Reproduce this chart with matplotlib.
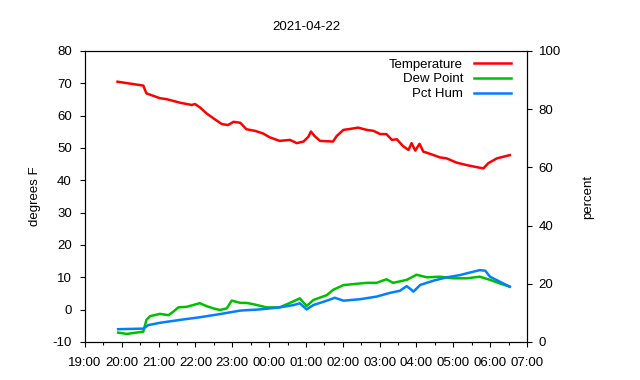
import matplotlib
matplotlib.use("Agg")
import matplotlib.pyplot as plt
import matplotlib.dates as mdates
import pandas as pd

plt.rcParams['font.family'] = ['Liberation Sans', 'DejaVu Sans']
plt.rcParams['font.size'] = 9.5
plt.rcParams['axes.unicode_minus'] = False

# readings (times are local, after midnight rolls to the next day)
t_temp = ["19:53", "20:35", "20:40", "21:02", "21:13", "21:35", "21:54", "21:59",
          "22:07", "22:18", "22:29", "22:43", "22:53", "23:02", "23:13", "23:23",
          "23:37", "23:50", "00:01", "00:17", "00:34", "00:45", "00:56", "01:04",
          "01:08", "01:14", "01:23", "01:44", "01:50", "02:01", "02:12", "02:25",
          "02:39", "02:50", "03:01", "03:11", "03:20", "03:28", "03:38", "03:47",
          "03:52", "03:58", "04:05", "04:11", "04:28", "04:38", "04:49", "05:05",
          "05:22", "05:43", "05:49", "05:57", "06:11", "06:32"]
temp = [70.5, 69.3, 66.9, 65.4, 65.1, 64.0, 63.3, 63.6,
        62.6, 60.7, 59.2, 57.4, 57.1, 58.1, 57.8, 55.8,
        55.3, 54.5, 53.3, 52.2, 52.5, 51.5, 52.0, 53.5,
        55.1, 53.7, 52.2, 52.0, 53.7, 55.6, 55.9, 56.3,
        55.6, 55.3, 54.3, 54.3, 52.5, 52.7, 50.6, 49.4,
        51.5, 49.2, 51.3, 48.9, 47.8, 47.1, 46.8, 45.5,
        44.7, 43.9, 43.7, 45.3, 46.8, 47.8]

t_dew = ["19:54", "20:08", "20:35", "20:40", "20:46", "21:02", "21:16", "21:24",
         "21:32", "21:46", "22:07", "22:18", "22:29", "22:40", "22:51", "22:59",
         "23:13", "23:23", "23:34", "23:56", "00:17", "00:34", "00:50", "01:01",
         "01:12", "01:34", "01:44", "02:01", "02:17", "02:39", "02:55", "03:11",
         "03:22", "03:44", "04:00", "04:17", "04:38", "05:00", "05:22", "05:43",
         "06:00", "06:16", "06:32"]
dew = [-7.1, -7.5, -6.8, -3.2, -2.0, -1.3, -1.7, -0.6,
       0.7, 0.9, 2.0, 1.1, 0.4, -0.1, 0.4, 2.8,
       2.1, 2.1, 1.7, 0.7, 0.7, 2.1, 3.5, 1.1,
       3.0, 4.5, 6.1, 7.6, 7.9, 8.3, 8.3, 9.4,
       8.3, 9.2, 10.8, 10.0, 10.2, 9.7, 9.7, 10.2,
       9.2, 8.1, 7.1]

t_hum = ["19:54", "20:35", "20:43", "21:02", "21:35", "22:07", "22:40", "23:13",
         "23:45", "00:17", "00:40", "00:50", "01:01", "01:12", "01:34", "01:47",
         "02:01", "02:28", "02:55", "03:17", "03:33", "03:44", "03:52", "03:55",
         "04:06", "04:28", "04:49", "05:11", "05:22", "05:43", "05:52", "06:00",
         "06:16", "06:32"]
hum = [4.4, 4.6, 5.8, 6.6, 7.6, 8.5, 9.6, 10.8,
       11.2, 11.9, 12.7, 13.3, 11.2, 12.7, 14.2, 15.2,
       14.2, 14.7, 15.6, 16.9, 17.6, 19.2, 17.9, 17.3,
       19.6, 21.1, 22.2, 23.0, 23.6, 24.7, 24.5, 22.4,
       20.7, 19.0]


def to_dt(times):
    out = []
    for s in times:
        day = "2021-04-22" if int(s[:2]) >= 12 else "2021-04-23"
        out.append(pd.Timestamp(day + " " + s))
    return out


fig = plt.figure(figsize=(6.4, 3.8), dpi=100)
ax = fig.add_axes([0.1328, 0.1, 0.6906, 0.7658])
ax2 = ax.twinx()

l1, = ax.plot(to_dt(t_temp), temp, color="#ff0000", lw=1.8, label="Temperature")
l2, = ax.plot(to_dt(t_dew), dew, color="#00c000", lw=1.8, label="Dew Point")
l3, = ax2.plot(to_dt(t_hum), hum, color="#0080ff", lw=1.8, label="Pct Hum")

ax.set_xlim(pd.Timestamp("2021-04-22 19:00"), pd.Timestamp("2021-04-23 07:00"))
ax.set_ylim(-10, 80)
ax.set_yticks(range(-10, 81, 10))
ax2.set_ylim(0, 100)
ax2.set_yticks(range(0, 101, 20))

ax.xaxis.set_major_locator(mdates.HourLocator())
ax.xaxis.set_minor_locator(mdates.MinuteLocator(byminute=[30]))
ax.xaxis.set_major_formatter(mdates.DateFormatter("%H:%M"))

ax.tick_params(axis="y", which="major", direction="out", length=3.5, width=0.8, pad=6)
ax.tick_params(axis="x", which="major", direction="out", length=3.5, width=0.8, pad=7)
ax.tick_params(axis="x", which="minor", direction="out", length=2.5, width=0.8)
ax2.tick_params(axis="y", direction="out", length=3.5, width=0.8, pad=5)

ax.set_ylabel("degrees F", labelpad=8)
ax2.set_ylabel("percent", labelpad=15)
ax.set_title("2021-04-22", pad=15, fontsize=9.5)

leg = ax2.legend(handles=[l1, l2, l3], loc="upper right", bbox_to_anchor=(0.964, 0.975),
                 frameon=False, markerfirst=False, borderpad=0, borderaxespad=0,
                 handlelength=2.8, handletextpad=0.83, labelspacing=0.2)

fig.savefig("out.png", dpi=100)
